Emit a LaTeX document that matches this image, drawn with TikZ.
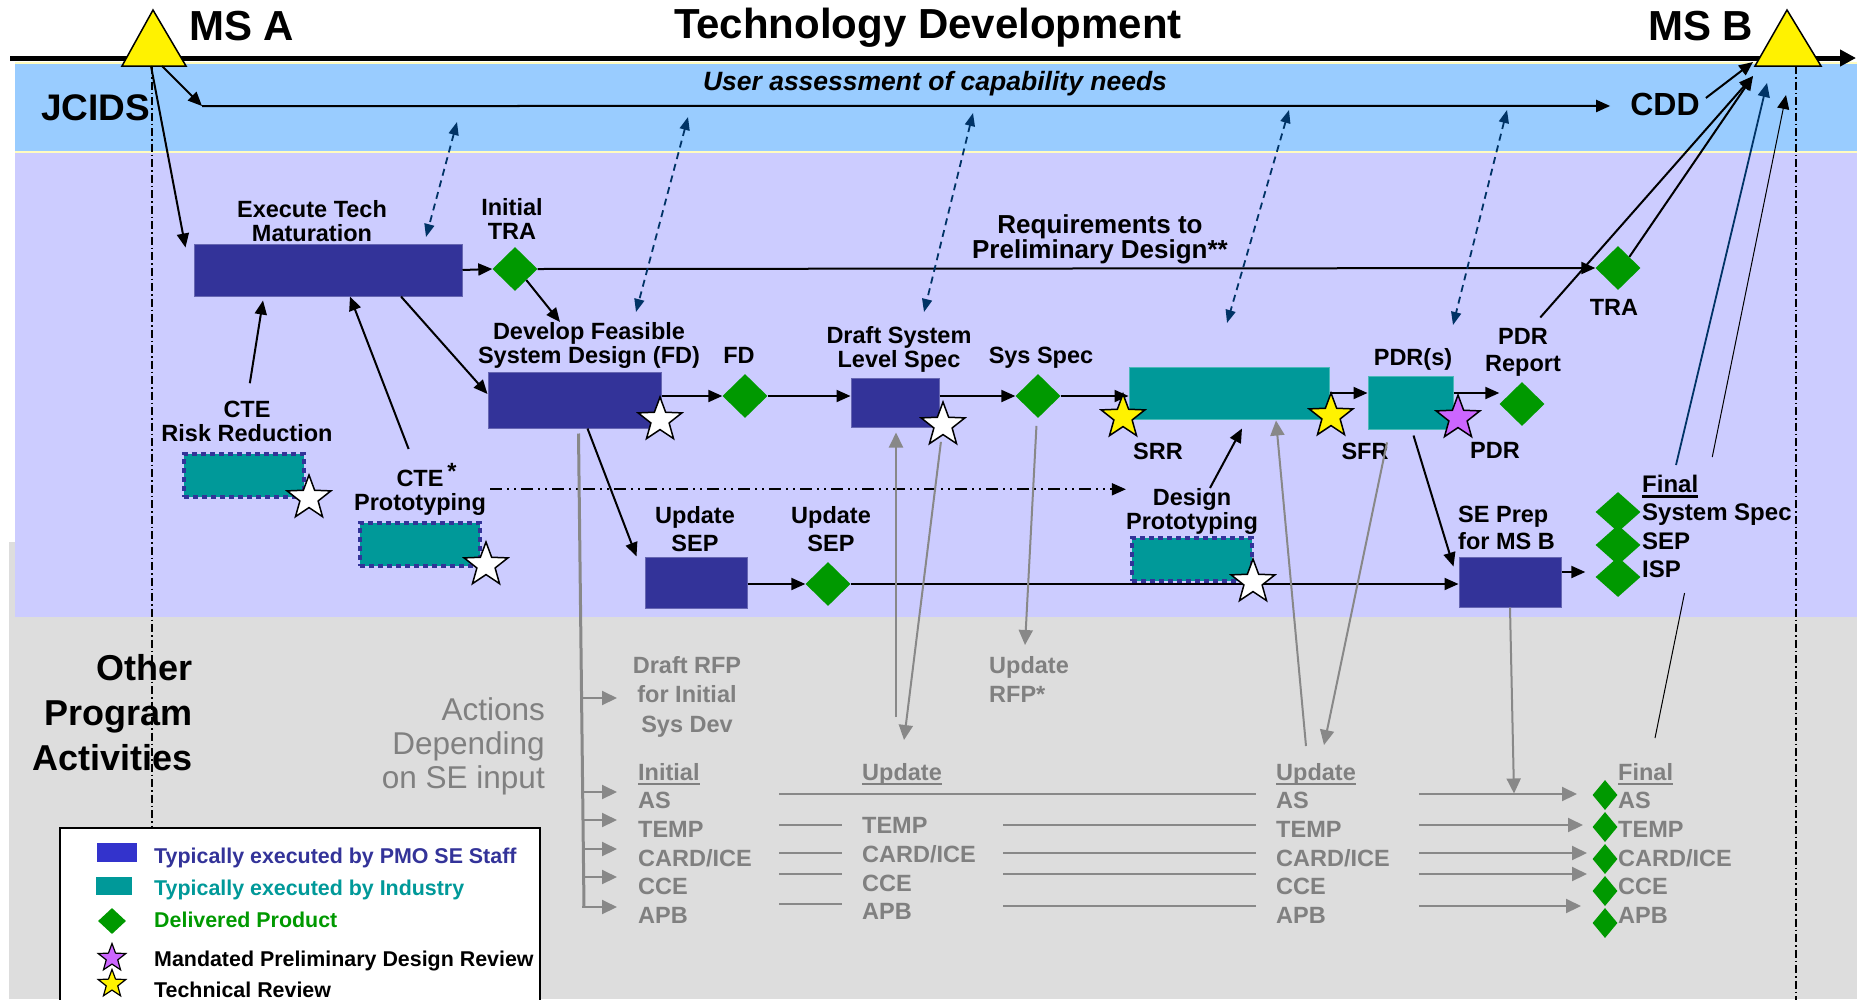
\documentclass[tikz,border=0pt]{standalone}
\usepackage{fontspec}
\setmainfont{Liberation Sans}
\usetikzlibrary{arrows.meta,shapes.geometric,calc}

\definecolor{pmoblue}{HTML}{333399}
\definecolor{legblue}{HTML}{3333CC}
\definecolor{indteal}{HTML}{009999}
\definecolor{prodgreen}{HTML}{009900}
\definecolor{jcidsblue}{HTML}{99CCFF}
\definecolor{tdlav}{HTML}{CCCCFF}
\definecolor{othergray}{HTML}{DDDDDD}
\definecolor{txtgray}{HTML}{808080}
\definecolor{arrowgray}{HTML}{888888}
\definecolor{linkblue}{HTML}{003366}
\definecolor{pdrpurple}{HTML}{CC66FF}

\newcommand{\lblfont}{\fontsize{23.5pt}{24pt}\selectfont\bfseries}
\newcommand{\reqfont}{\fontsize{26pt}{22pt}\selectfont\bfseries}
\newcommand{\finfont}{\fontsize{24pt}{28.3pt}\selectfont\bfseries}
\newcommand{\grayfont}{\fontsize{23.5pt}{28.6pt}\selectfont\bfseries}
\newcommand{\legfont}{\fontsize{21.4pt}{23pt}\selectfont\bfseries}
\newcommand{\undl}[1]{\setbox0\hbox{#1}\rlap{\rule[-5pt]{\wd0}{2.5pt}}\box0}

\tikzset{
  pmobox/.style={draw=pmoblue!75!white, fill=pmoblue, line width=1pt, inner sep=0pt},
  indbox/.style={draw=indteal!70!white, fill=indteal, line width=1pt, inner sep=0pt},
  ctebox/.style={draw=pmoblue, fill=indteal, line width=4pt, dash pattern=on 5pt off 4pt,
    inner sep=0pt, minimum width=120pt, minimum height=43pt},
  product/.style={diamond, fill=prodgreen, inner sep=0pt, minimum width=45pt, minimum height=44pt},
  revstar/.style={star, star points=5, star point ratio=2.4, draw=black, line width=1.5pt,
    fill=white, minimum size=46pt, inner sep=0pt},
  lbl/.style={font=\lblfont, inner sep=0pt, align=center},
  graylbl/.style={font=\grayfont, text=txtgray, inner sep=0pt, align=left, anchor=north west},
  legtxt/.style={font=\legfont, inner sep=0pt, anchor=base west},
  bigtxt/.style={font=\fontsize{42pt}{44pt}\selectfont\bfseries, inner sep=0pt},
  flow/.style={->, line width=2pt},
  grayline/.style={draw=arrowgray, line width=1.5pt},
  grayarrow/.style={draw=arrowgray, line width=2pt, ->, >={Triangle[length=15pt,width=14pt]}},
  linkarrow/.style={<->, draw=linkblue, line width=1.8pt, dash pattern=on 7pt off 5pt,
    >={Triangle[length=13pt,width=10pt]}},
  msline/.style={line width=2pt, dash pattern=on 8pt off 3pt on 1.5pt off 3pt}
}

\begin{document}
\begin{tikzpicture}[x=1pt, y=-1pt, >={Triangle[length=14pt,width=12pt]}]
    \useasboundingbox (0,0) rectangle (1857,999);
    \clip (0,0) rectangle (1857,999);

    % bands
    \fill[othergray] (9,542) rectangle (1857,999);
    \fill[tdlav] (15,152) rectangle (1857,617);
    \fill[jcidsblue] (15,64) rectangle (1857,152);
    \draw[yellow!25, line width=1.5pt]
        (15,63) -- (1857,63)
        (15,152) -- (1857,152);

    % time line and milestones
    \coordinate (tl0) at (10,58);
    \coordinate (tl1) at (1856,58);
    \draw[->, line width=5pt, >={Triangle[length=16pt,width=16pt]}] (tl0) -- (tl1);
    \draw[fill=yellow, line width=1.5pt] (122,66) -- (153,10) -- (186,66) -- cycle;
    \draw[fill=yellow, line width=1.5pt] (1755,66) -- (1787,10) -- (1821,66) -- cycle;
    \coordinate (msa) at (153,66);
    \coordinate (msb) at (1788,66);

    \node[bigtxt, anchor=base west] (msatxt) at (189,40) {MS A};
    \node[bigtxt, anchor=base west] (msbtxt) at (1648,40) {MS B};
    \node[bigtxt, anchor=base] (title) at (928,38) {Technology Development};
    \node[anchor=base west, inner sep=0pt, font=\fontsize{37pt}{40pt}\selectfont\bfseries] (jcids) at (41,120) {JCIDS};
    \node[anchor=base, inner sep=0pt, font=\fontsize{26.5pt}{28pt}\selectfont\bfseries\itshape] (user) at (935,90) {User assessment of capability needs};
    \node[anchor=base, inner sep=0pt, font=\fontsize{32pt}{34pt}\selectfont\bfseries] (cdd) at (1665,115) {CDD};

    \node[anchor=north east, align=right, inner sep=0pt, font=\fontsize{36pt}{45pt}\selectfont\bfseries] (other) at (193,654) {Other\\Program\\Activities};
    \node[anchor=north east, align=right, inner sep=0pt, text=txtgray, font=\fontsize{31.5pt}{34pt}\selectfont] (actions) at (545,697) {Actions\\Depending\\on SE input};

    \draw[msline] ([xshift=-1pt]msa) -- ++(0,761);
    \draw[msline] ([xshift=8pt]msb) -- ++(0,940);

    % jcids flow
    \coordinate (jbend) at (202,106);
    \draw[flow] ([xshift=9pt]msa) -- (jbend);
    \draw[flow] (jbend) -- ([xshift=-20pt,yshift=-2pt]cdd.west);
    \draw[flow] ([xshift=6pt,yshift=6pt]cdd.east) -- ([xshift=-35pt,yshift=4pt]msb);

    % technology development activities
    \node[pmobox, minimum width=268pt, minimum height=52pt] (exec) at (328,270) {};
    \node[lbl, anchor=north] (lexec) at (312,200) {Execute Tech\\Maturation};
    \draw[flow] ([xshift=-2pt]msa) -- ([xshift=-8pt,yshift=-4pt]exec.north west);

    \node[product] (itra) at (515,269) {};
    \node[lbl, anchor=north] (litra) at (512,198) {Initial\\TRA};
    \draw[flow] (exec.east) -- (itra.west);

    \node[product] (tra) at (1618,268) {};
    \node[lbl, anchor=base] (ltra) at (1614,315) {TRA};
    \draw[flow] (itra.east) -- (tra.west);
    \node[lbl, font=\reqfont, anchor=north] (lreq) at (1100,214) {Requirements to\\Preliminary Design**};

    \node[pmobox, minimum width=173pt, minimum height=56pt] (fdbox) at (574.5,400) {};
    \node[lbl, anchor=north] (lfdbox) at (589,322) {Develop Feasible\\System Design (FD)};
    \draw[flow] (itra.south east) -- ([xshift=-29pt]lfdbox.north);
    \draw[flow] ([xshift=73pt]exec.south) -- ([yshift=6pt]fdbox.west);

    \node[ctebox] (cterisk) at (244,475.5) {};
    \node[lbl, anchor=north] (lcterisk) at (247,401) {CTE\\Risk Reduction};
    \node[ctebox] (cteproto) at (420,544) {};
    \node[lbl, anchor=north] (lcteproto) at (420,463) {CTE\rlap{\,\raisebox{7pt}{*}}\\Prototyping};
    \draw[flow, shorten <=18pt] (lcterisk.north) -- ([xshift=-65pt,yshift=-4pt]exec.south);
    \draw[flow, shorten <=15pt] ([xshift=-6pt]lcteproto.north) -- ([xshift=22pt]exec.south);

    \node[product] (fd) at (745,396) {};
    \node[lbl, anchor=base] (lfd) at (739,363) {FD};
    \node[pmobox, minimum width=88pt, minimum height=49pt] (draft) at (895,402.5) {};
    \node[lbl, anchor=north] (ldraft) at (899,326) {Draft System\\Level Spec};
    \draw[flow] (fdbox.east |- fd) -- (fd.west);
    \draw[flow] (fd.east) -- (fd -| draft.west);

    \node[product] (sysspec) at (1038,396) {};
    \node[lbl, anchor=base] (lsysspec) at (1041,363) {Sys Spec};
    \draw[flow] (draft.east |- sysspec) -- (sysspec.west);

    \node[indbox, minimum width=200pt, minimum height=52pt] (srrbox) at (1229,393) {};
    \draw[flow] (sysspec.east) -- (sysspec -| srrbox.west);
    \node[indbox, minimum width=85pt, minimum height=53pt] (pdrbox) at (1410.5,402.5) {};
    \node[lbl, anchor=base] (lpdrbox) at (1413,365) {PDR(s)};
    \draw[flow] (srrbox.east) -- (srrbox.east -| pdrbox.west);
    \node[product] (pdrrep) at (1522,404) {};
    \node[lbl, anchor=north] (lpdrrep) at (1523,328) {PDR\\[3pt]Report};
    \draw[flow] (pdrbox.east |- srrbox.east) -- (srrbox.east -| pdrrep.west);

    \node[ctebox] (dproto) at (1192,559.5) {};
    \node[lbl, anchor=north] (ldproto) at (1192,488) {Design\\Prototyping};
    \draw[flow] ([xshift=18pt]ldproto.north) -- ([xshift=13pt,yshift=-9pt]srrbox.south);
    \draw[flow, line width=1.8pt, dash pattern=on 12pt off 5pt on 2pt off 5pt on 2pt off 5pt]
        ([xshift=4pt]lcteproto.east) -- (lcteproto.east -| ldproto.west);

    \node[pmobox, minimum width=102pt, minimum height=51pt] (usep) at (696,582.5) {};
    \node[lbl, anchor=north] (lusep) at (695,506) {Update\\[4pt]SEP};
    \node[product] (usepd) at (828,584) {};
    \node[lbl, anchor=north] (lusepd) at (831,506) {Update\\[4pt]SEP};
    \draw[flow] ([xshift=13pt]fdbox.south) -- ([xshift=-8pt]usep.north west);
    \draw[flow] (usep.east |- usepd) -- (usepd.west);

    \node[pmobox, minimum width=102pt, minimum height=50pt] (seprep) at (1510,582) {};
    \node[lbl, anchor=north west, align=left] (lseprep) at (1458,506) {SE Prep\\[3pt]for MS B};
    \draw[flow] (usepd.east) -- (usepd -| seprep.west);
    \draw[flow] ([xshift=3pt,yshift=-6pt]pdrbox.south) -- ([xshift=-5pt,yshift=-10pt]seprep.north west);

    \node[product, minimum height=40pt] (fin1) at (1618,512) {};
    \node[product, minimum height=40pt] (fin2) at (1618,545) {};
    \node[product, minimum height=40pt] (fin3) at (1618,577) {};
    \node[lbl, font=\finfont, anchor=north west, align=left] (lfin) at (1642,475) {\undl{Final}\\System Spec\\SEP\\ISP};
    \draw[flow] ([yshift=10pt]seprep.east) -- ([xshift=-10pt,yshift=5pt]fin3.west);

    % into MS B
    \draw[flow] (tra.north east) -- ([xshift=-35pt,yshift=-10pt]msb);
    \draw[flow, shorten <=14pt] ([xshift=8pt]lpdrrep.north) -- ([xshift=-35pt,yshift=-10pt]msb);
    \draw[flow, draw=linkblue, line width=1.8pt] ([xshift=34pt,yshift=10pt]lfin.north west) -- ([xshift=-21pt,yshift=-17pt]msb);

    % links to user assessment
    \foreach \i/\xa/\ya/\xb/\yb in {1/457/122/426/237, 2/688/117/636/312, 3/973/113/924/312,
        4/1289/110/1227/323, 5/1507/110/1453/325} {
        \coordinate (lka\i) at (\xa,\ya);
        \coordinate (lkb\i) at (\xb,\yb);
        \draw[linkarrow] (lka\i) -- (lkb\i);
    }

    % other program activities
    \node[graylbl, anchor=north, align=center, font=\fontsize{23.5pt}{29.5pt}\selectfont\bfseries] (rfp) at (687,656) {Draft RFP\\for Initial\\Sys Dev};
    \node[graylbl, font=\fontsize{23.5pt}{29pt}\selectfont\bfseries] (updrfp) at (989,656) {Update\\RFP*};
    \node[graylbl] (col1) at (638,763) {\undl{Initial}\\AS\\TEMP\\CARD/ICE\\CCE\\APB};
    \node[graylbl] (col2) at (862,763) {\undl{Update}\\[25pt]TEMP\\CARD/ICE\\CCE\\APB};
    \node[graylbl] (col3) at (1276,763) {\undl{Update}\\AS\\TEMP\\CARD/ICE\\CCE\\APB};
    \node[graylbl] (col4) at (1618,763) {\undl{Final}\\AS\\TEMP\\CARD/ICE\\CCE\\APB};
    \foreach \y in {795,827,859,891,923}
        \node[product, minimum width=25pt, minimum height=30pt] (fdia\y) at (1605,\y) {};

    \coordinate (trunkend) at ([xshift=-54pt,yshift=-144pt]col1.north west);
    \draw[draw=arrowgray, line width=3pt] ([xshift=4pt,yshift=-5pt]fdbox.south) -- (trunkend);
    \foreach \y in {698,792,820,849,877,907}
        \draw[grayarrow] (582,\y) -- (617,\y);

    \draw[grayline]
        (779,794) -- (1256,794)
        (779,825) -- (842,825)  (1003,825) -- (1256,825)
        (779,853) -- (842,853)  (1003,853) -- (1256,853)
        (779,874) -- (842,874)  (1003,874) -- (1256,874)
        (779,904) -- (842,904)  (1003,906) -- (1256,906);
    \foreach \y/\t in {794/1577, 825/1583, 853/1587, 874/1587, 906/1581}
        \draw[grayarrow] (1419,\y) -- (\t,\y);

    \draw[grayarrow] ([xshift=34pt,yshift=46pt]col2.north west) -- ([xshift=1pt,yshift=-5pt]draft.south);
    \draw[grayarrow, shorten <=30pt] (sysspec.center) -- ([xshift=36pt,yshift=11pt]updrfp.north west);
    \draw[grayarrow] ([xshift=30pt,yshift=17pt]col3.north west) -- ([xshift=47pt,yshift=-1pt]srrbox.south);
    \draw[grayarrow] (seprep.south) -- ++(4,186);

    % thin line from final products to MS B
    \coordinate (thinlo) at ([xshift=37pt,yshift=25pt]col4.north west);
    \coordinate (thintop) at ([xshift=-2pt,yshift=-29pt]msb);
    \draw[line width=1pt] (thinlo) -- ($(thinlo)!0.2255!(thintop)$);
    \draw[flow, line width=1pt] ($(thinlo)!0.437!(thintop)$) -- (thintop);

    % reviews
    \node[revstar] (scterisk) at (309,498) {};
    \node[revstar] (scteproto) at (486,565) {};
    \node[revstar] (sfdbox) at (660,420) {};
    \node[revstar] (sdraft) at (943,425) {};
    \node[revstar] (sdproto) at (1253,582) {};
    \node[revstar, fill=yellow] (srr) at (1123,417) {};
    \node[revstar, fill=yellow] (sfr) at (1331,416) {};
    \node[revstar, fill=pdrpurple] (pdr) at (1458,418) {};
    \node[lbl, anchor=base] (lsrr) at (1158,459) {SRR};
    \node[lbl, anchor=base] (lsfr) at (1365,459) {SFR};
    \node[lbl, anchor=base] (lpdr) at (1495,458) {PDR};

    \draw[grayarrow, shorten <=17pt] (sdraft.center) -- ([xshift=42pt,yshift=23pt]col2.north west);
    \draw[grayarrow] ([xshift=22pt]lsfr.north) -- ([xshift=48pt,yshift=18pt]col3.north west);

    % legend
    \node[draw, line width=1.5pt, fill=white, anchor=north west, minimum width=480pt,
        minimum height=200pt, inner sep=0pt] (legend) at (59,827) {};
    \node[fill=legblue, minimum width=40pt, minimum height=19pt, inner sep=0pt] (kpmo) at (117,852.5) {};
    \node[fill=indteal, minimum width=36pt, minimum height=18pt, inner sep=0pt] (kind) at (114,886) {};
    \node[product, minimum width=28pt, minimum height=26pt] (kprod) at (112,921) {};
    \node[revstar, fill=pdrpurple, minimum size=29pt, line width=1.2pt] (kpdr) at (112,958) {};
    \node[revstar, fill=yellow, minimum size=29pt, line width=1.2pt] (ktech) at (112,984) {};
    \node[legtxt, text=pmoblue] (tpmo) at (154,863) {Typically executed by PMO SE Staff};
    \node[legtxt, text=indteal] (tind) at (154,895) {Typically executed by Industry};
    \node[legtxt, text=prodgreen] (tprod) at (154,927) {Delivered Product};
    \node[legtxt] (tpdr) at (154,966) {Mandated Preliminary Design Review};
    \node[legtxt] (ttech) at (154,997) {Technical Review};
\end{tikzpicture}
\end{document}
